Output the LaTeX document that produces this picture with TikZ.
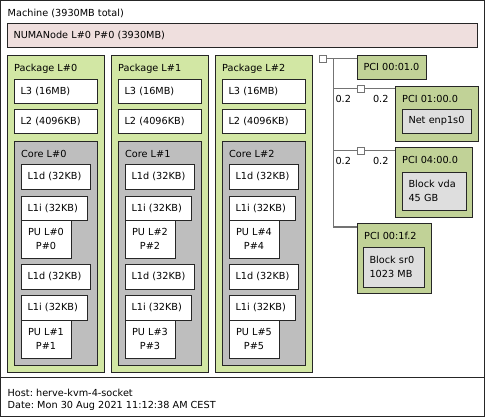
\documentclass[tikz,border=0pt]{standalone}
\usepackage{fontspec}
\setmainfont{DejaVu Sans}
\definecolor{numacol}{RGB}{239,223,222}
\definecolor{pkgcol}{RGB}{210,231,164}
\definecolor{corecol}{RGB}{190,190,190}
\definecolor{pcicol}{RGB}{193,210,151}
\definecolor{oscol}{RGB}{222,222,222}
\tikzset{
  obj/.style={draw=black!85, line width=0.8pt, anchor=north west, inner sep=0pt, outer sep=0pt},
  sized/.style 2 args={minimum width=#1pt, minimum height=#2pt},
  leaf/.code 2 args={\pgfmathsetmacro\tw{#1-13}%
    \tikzset{obj, fill=white, align=left, inner xsep=6.5pt, text width/.expanded={\tw pt}, minimum height=#2pt}},
  lbl/.style={anchor=base west, inner sep=0pt, xshift=7pt, yshift=-16.5pt},
  pu/.style={obj, fill=white, sized={50}{38}, align=center},
  bus/.style={draw=black!55, line width=1pt},
  bridge/.style={obj, draw=black!55, fill=white, sized={7}{7}},
  bw/.style={inner sep=2pt, yshift=-4pt},
}
\begin{document}
\frenchspacing
\begin{tikzpicture}[x=1pt, y=-1pt, font=\fontsize{9.7}{14}\selectfont]
  \useasboundingbox (0,0) rectangle (485,417);

  % Machine and memory
  \node[obj, fill=white, sized={484}{376.5}, label={[lbl]north west:Machine (3930MB total)}] (machine) at (0.5,0.5) {};
  \node[leaf={470}{24}, fill=numacol] (numa) at (7,23.5) {NUMANode L\#0 P\#0 (3930MB)};

  % Packages, cores and PUs
  \foreach \p [evaluate=\p as \dx using 104*\p,
               evaluate=\p as \ua using int(2*\p),
               evaluate=\p as \ub using int(2*\p+1)] in {0,1,2} {
    \node[obj, fill=pkgcol, sized={97}{317}, label={[lbl]north west:Package L\#\p}] (pkg\p) at (7+\dx,55) {};
    \node[leaf={83}{24}] (l3-\p) at (14+\dx,79) {L3 (16MB)};
    \node[leaf={83}{24}] (l2-\p) at (14+\dx,109.5) {L2 (4096KB)};
    \node[obj, fill=corecol, sized={83}{224}, label={[lbl]north west:Core L\#\p}] (core\p) at (14+\dx,141) {};
    \node[leaf={69}{24.5}] (l1da-\p) at (21+\dx,164.5) {L1d (32KB)};
    \node[leaf={66}{24}] (l1ia-\p) at (21+\dx,196) {L1i (32KB)};
    \node[pu] (pu\ua) at (21+\dx,220) {PU L\#\ua\\P\#\ua};
    \node[leaf={69}{24.5}] (l1db-\p) at (21+\dx,264.5) {L1d (32KB)};
    \node[leaf={66}{24.5}] (l1ib-\p) at (21+\dx,295.5) {L1i (32KB)};
    \node[pu] (pu\ub) at (21+\dx,320) {PU L\#\ub\\P\#\ub};
  }

  % PCI tree
  \node[bridge] (hostbr) at (319,55) {};
  \node[leaf={69}{24}, fill=pcicol] (pci010) at (357,55) {PCI 00:01.0};
  \node[bridge] (br1) at (357,85) {};
  \node[obj, fill=pcicol, sized={83}{55}, label={[lbl]north west:{PCI 01:00.0}}] (pci0100) at (395,86) {};
  \node[leaf={69}{24}, fill=oscol] (net) at (402,109) {Net enp1s0};
  \node[bridge] (br2) at (357,147) {};
  \node[obj, fill=pcicol, sized={77}{70}, label={[lbl]north west:{PCI 04:00.0}}] (pci0400) at (395,147) {};
  \node[leaf={64}{38}, fill=oscol] (vda) at (402,172) {Block vda\\45 GB};
  \node[obj, fill=pcicol, sized={74}{70}, label={[lbl]north west:{PCI 00:1f.2}}] (pci1f2) at (357,223) {};
  \node[leaf={61}{40}, fill=oscol] (sr0) at (363,247) {Block sr0\\1023 MB};

  % Links
  \coordinate (bus) at (333,58.5);
  \draw[bus] (hostbr.east) -- (hostbr.east -| pci010.west);
  \draw[bus] (bus) |- ([yshift=-4pt]pci1f2.north west);
  \draw[bus] (bus |- br1.west) -- node[bw, pos=0, anchor=north west] {0.2} (br1.west);
  \draw[bus] (br1.east) -- node[bw, pos=1, anchor=north east, xshift=-4pt] {0.2} (br1.east -| pci0100.west);
  \draw[bus] (bus |- br2.west) -- node[bw, pos=0, anchor=north west] {0.2} (br2.west);
  \draw[bus] (br2.east) -- node[bw, pos=1, anchor=north east, xshift=-4pt] {0.2} (br2.east -| pci0400.west);

  % Legend
  \node[obj, fill=white, sized={484}{39.5}, label={[anchor=north west, align=left, inner sep=0pt, xshift=7pt, yshift=-11.6pt, font=\fontsize{9.7}{12.3}\selectfont]north west:{Host: herve-kvm-4-socket\\Date: Mon 30 Aug 2021 11:12:38 AM CEST}}] (legend) at (0.5,377) {};
\end{tikzpicture}
\end{document}
